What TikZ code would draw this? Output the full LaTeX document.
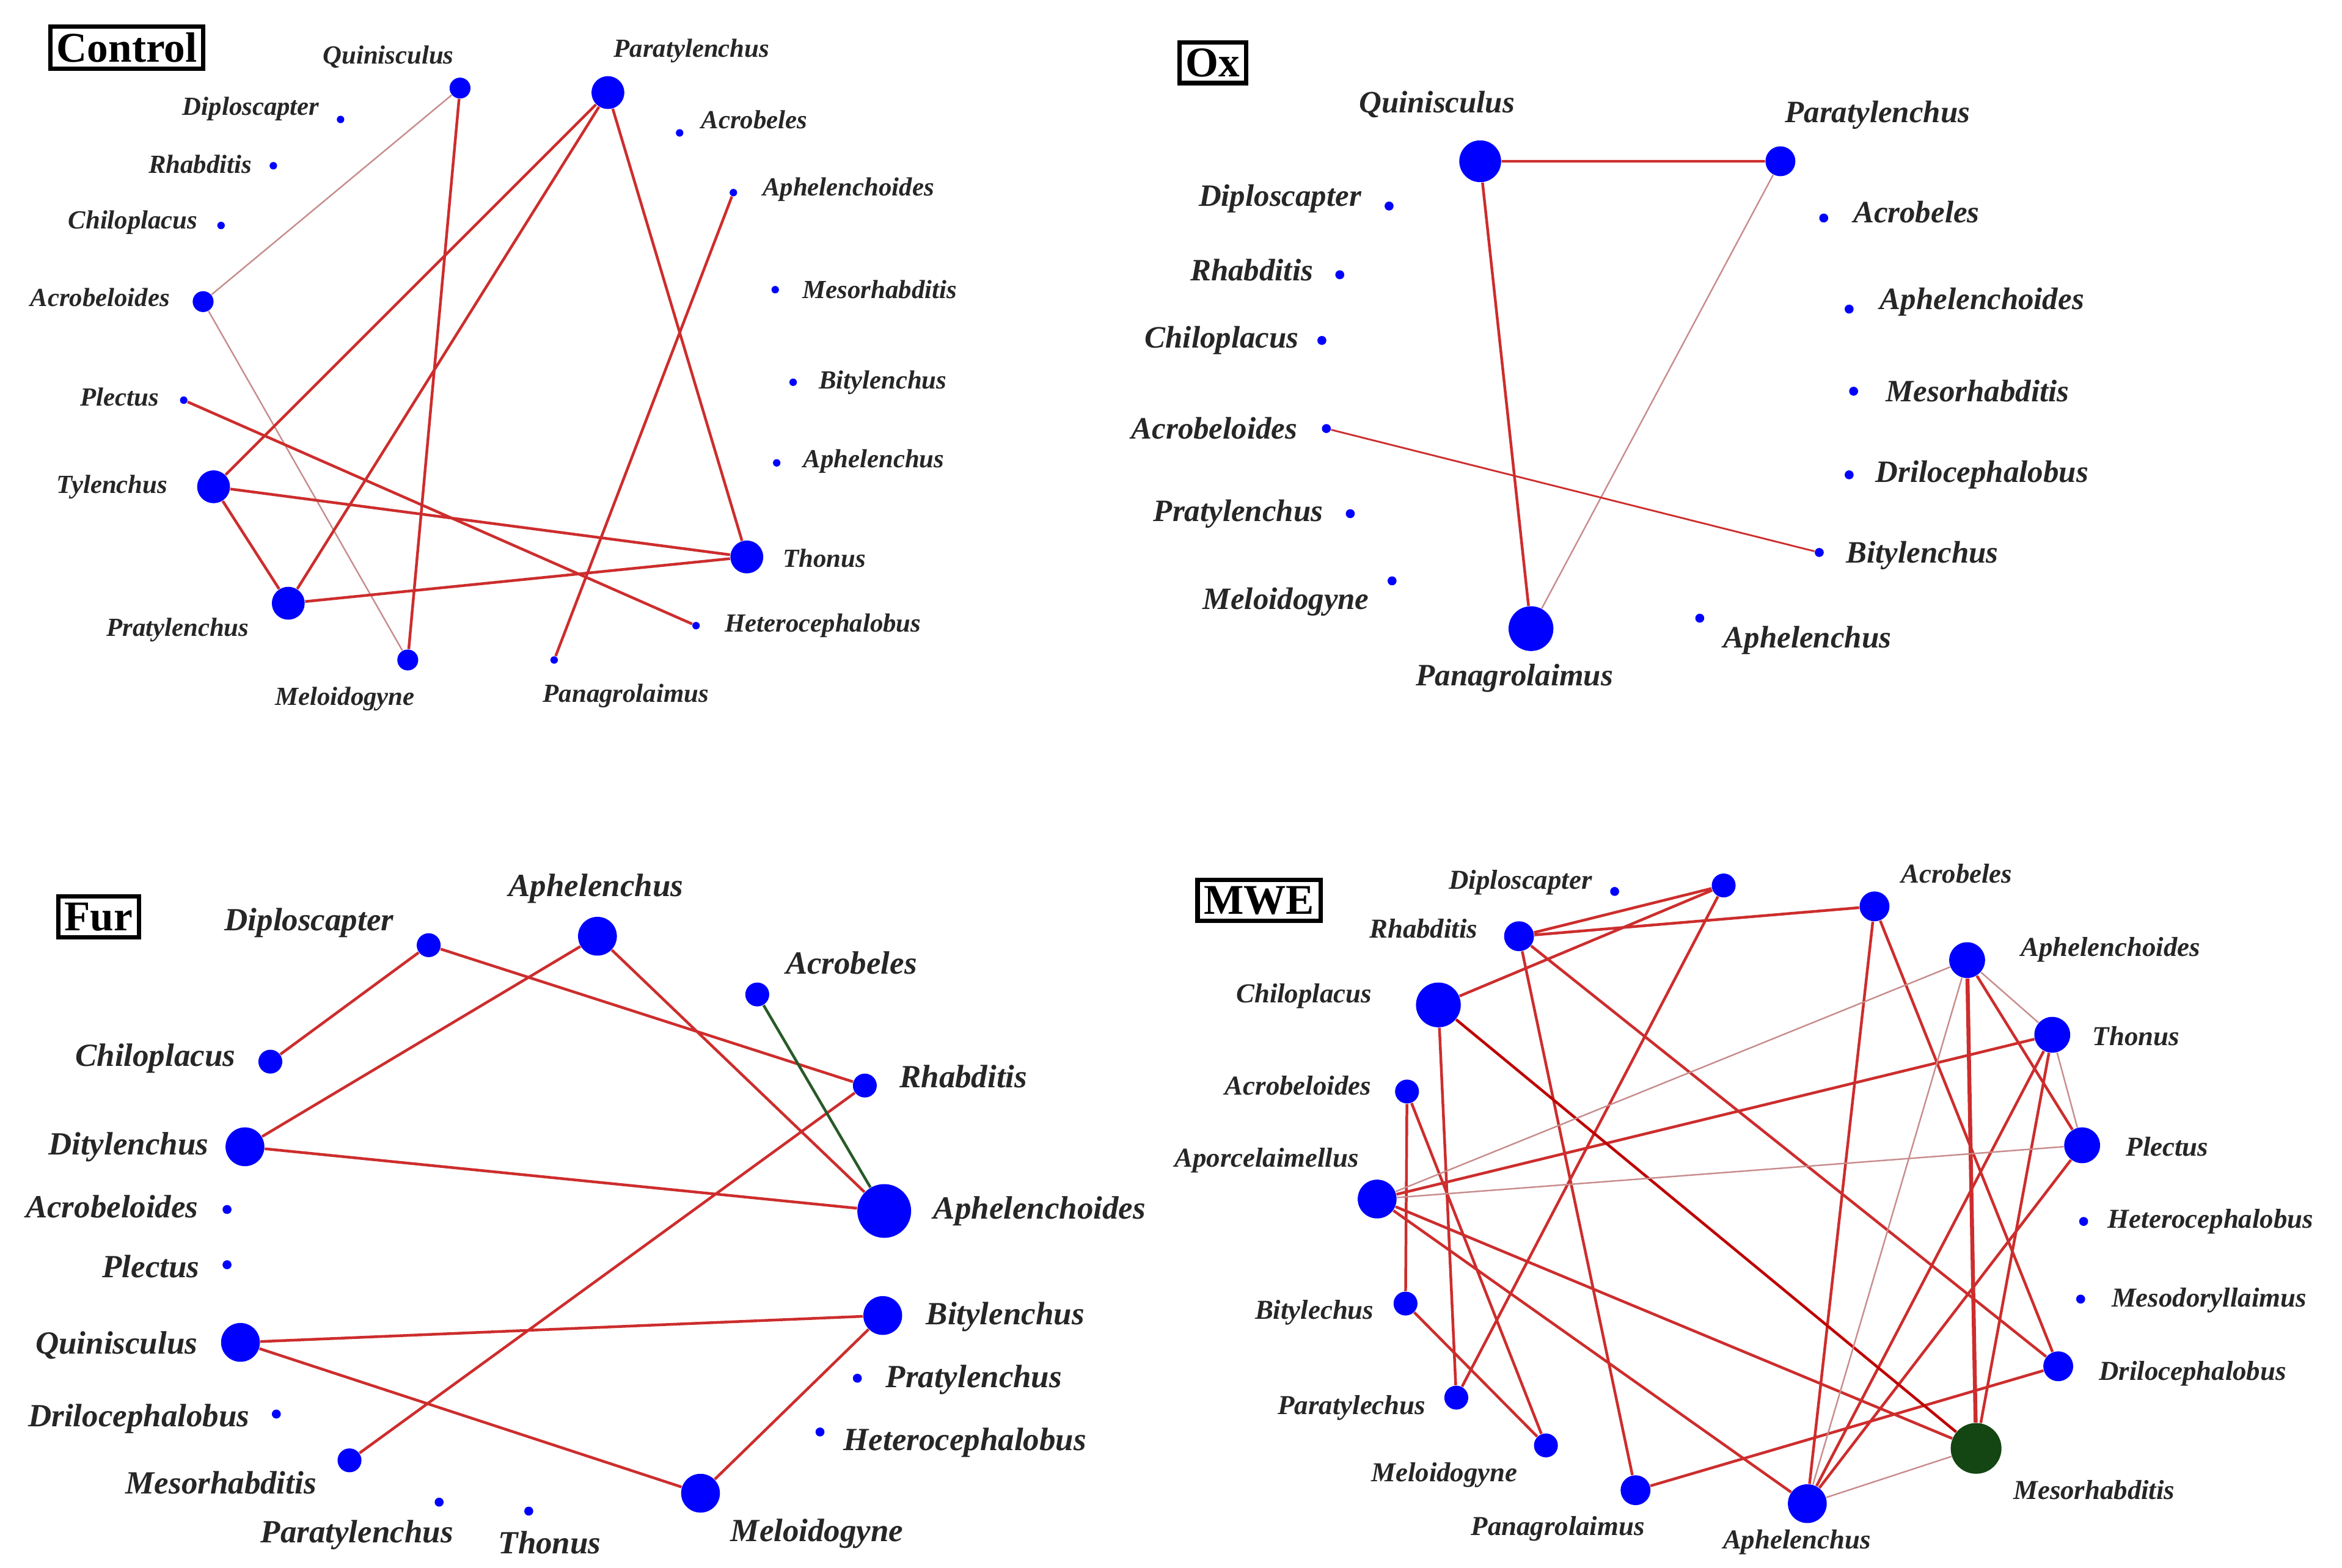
\documentclass[tikz,border=0pt]{standalone}
\usepackage{fontspec}
\setmainfont{Liberation Serif}
\begin{document}
\def\fs{10.5}
\begin{tikzpicture}[x=0.6pt,y=-0.6pt,
 dot/.style={circle,fill=blue,inner sep=0pt},
 lab/.style={font=\bfseries\itshape\fontsize{\fs}{\fs}\selectfont,text=black!85,inner sep=1pt},
 box/.style={draw,line width=1.8pt,font=\bfseries\fontsize{17}{18}\selectfont,inner sep=2.5pt},
 e/.style={draw={rgb,255:red,205;green,45;blue,45},line width=1.1pt},
 l/.style={draw={rgb,255:red,200;green,140;blue,140},line width=0.6pt},
 d/.style={draw={rgb,255:red,190;green,0;blue,0},line width=1.1pt},
 g/.style={draw={rgb,255:red,40;green,90;blue,40},line width=1.1pt}]
\useasboundingbox (0,0) rectangle (1568,1050);
\newcommand\nd[4]{\node[dot,minimum size=#4*1.2pt] (#1) at (#2,#3) {};}
\newcommand\lb[4]{\node[lab] (#1) at (#2,#3) {#4};}
% ---------- Control
\def\fs{10.5}
\node[box] (bc) at (85,32) {Control};
\nd{cQu}{308}{59}{7}\lb{lcQu}{260}{38}{Quinisculus}
\nd{cPa}{407}{62}{11}\lb{lcPa}{463}{34}{Paratylenchus}
\nd{cDi}{228}{80}{2.5}\lb{lcDi}{168}{73}{Diploscapter}
\nd{cAc}{455}{89}{2.5}\lb{lcAc}{505}{80}{Acrobeles}
\nd{cRh}{183}{111}{2.5}\lb{lcRh}{134}{110}{Rhabditis}
\nd{cAp}{491}{129}{2.5}\lb{lcAp}{568}{127}{Aphelenchoides}
\nd{cCh}{148}{151}{2.5}\lb{lcCh}{89}{149}{Chiloplacus}
\nd{cAb}{136}{202}{7}\lb{lcAb}{67}{199}{Acrobeloides}
\nd{cMe}{519}{194}{2.5}\lb{lcMe}{589}{194}{Mesorhabditis}
\nd{cBi}{531}{256}{2.5}\lb{lcBi}{591}{256}{Bitylenchus}
\nd{cPl}{123}{268}{2.5}\lb{lcPl}{80}{266}{Plectus}
\nd{cAh}{520}{310}{2.5}\lb{lcAh}{585}{309}{Aphelenchus}
\nd{cTy}{143}{326}{11}\lb{lcTy}{75}{326}{Tylenchus}
\nd{cTh}{500}{373}{11}\lb{lcTh}{552}{374}{Thonus}
\nd{cHe}{466}{419}{2.5}\lb{lcHe}{551}{419}{Heterocephalobus}
\nd{cPr}{193}{404}{11}\lb{lcPr}{119}{422}{Pratylenchus}
\nd{cMl}{273}{442}{7}\lb{lcMl}{231}{468}{Meloidogyne}
\nd{cPn}{371}{442}{2.5}\lb{lcPn}{419}{466}{Panagrolaimus}
\path[l] (cQu)--(cAb) (cAb)--(cMl);
\path[e] (cQu)--(cMl) (cPa)--(cTy) (cPa)--(cPr) (cPa)--(cTh) (cAp)--(cPn)
 (cPl)--(cHe) (cTy)--(cTh) (cTy)--(cPr) (cPr)--(cTh);
% ---------- Ox
\def\fs{12.5}
\node[box] (bo) at (812,42) {Ox};
\nd{oQu}{991}{108}{14}\lb{loQu}{962}{70}{Quinisculus}
\nd{oPa}{1192}{108}{10}\lb{loPa}{1257}{77}{Paratylenchus}
\nd{oDi}{930}{138}{3}\lb{loDi}{857}{133}{Diploscapter}
\nd{oAc}{1221}{146}{3}\lb{loAc}{1283}{142}{Acrobeles}
\nd{oRh}{897}{184}{3}\lb{loRh}{838}{181}{Rhabditis}
\nd{oAp}{1238}{207}{3}\lb{loAp}{1327}{202}{Aphelenchoides}
\nd{oCh}{885}{228}{3}\lb{loCh}{818}{228}{Chiloplacus}
\nd{oMe}{1241}{262}{3}\lb{loMe}{1324}{262}{Mesorhabditis}
\nd{oAb}{888}{287}{3}\lb{loAb}{813}{287}{Acrobeloides}
\nd{oDr}{1238}{318}{3}\lb{loDr}{1327}{318}{Drilocephalobus}
\nd{oPr}{904}{344}{3}\lb{loPr}{829}{344}{Pratylenchus}
\nd{oBi}{1218}{370}{3}\lb{loBi}{1287}{372}{Bitylenchus}
\nd{oMl}{932}{389}{3}\lb{loMl}{861}{403}{Meloidogyne}
\nd{oAh}{1138}{414}{3}\lb{loAh}{1210}{429}{Aphelenchus}
\nd{oPn}{1025}{421}{15}\lb{loPn}{1014}{454}{Panagrolaimus}
\path[e] (oQu)--(oPa) (oQu)--(oPn);
\path[l] (oPa)--(oPn);
\path[e,line width=0.7pt] (oAb)--(oBi);
% ---------- Fur
\def\fs{13}
\node[box] (bf) at (66,614) {Fur};
\nd{fDi}{287}{633}{8}\lb{lfDi}{207}{618}{Diploscapter}
\nd{fAh}{400}{627}{13}\lb{lfAh}{399}{595}{Aphelenchus}
\nd{fAc}{507}{666}{8}\lb{lfAc}{570}{645}{Acrobeles}
\nd{fCh}{181}{711}{8}\lb{lfCh}{104}{709}{Chiloplacus}
\nd{fRh}{579}{727}{8}\lb{lfRh}{645}{721}{Rhabditis}
\nd{fDt}{164}{768}{13}\lb{lfDt}{86}{768}{Ditylenchus}
\nd{fAb}{152}{810}{3}\lb{lfAb}{75}{808}{Acrobeloides}
\nd{fAp}{592}{811}{18}\lb{lfAp}{696}{811}{Aphelenchoides}
\nd{fPl}{152}{847}{3}\lb{lfPl}{101}{848}{Plectus}
\nd{fBi}{591}{881}{13}\lb{lfBi}{673}{882}{Bitylenchus}
\nd{fQu}{161}{899}{13}\lb{lfQu}{78}{901}{Quinisculus}
\nd{fPr}{574}{923}{3}\lb{lfPr}{652}{924}{Pratylenchus}
\nd{fDr}{185}{947}{3}\lb{lfDr}{93}{950}{Drilocephalobus}
\nd{fHe}{549}{959}{3}\lb{lfHe}{646}{966}{Heterocephalobus}
\nd{fMe}{234}{978}{8}\lb{lfMe}{148}{993}{Mesorhabditis}
\nd{fPa}{294}{1006}{3}\lb{lfPa}{239}{1028}{Paratylenchus}
\nd{fTh}{354}{1012}{3}\lb{lfTh}{368}{1033}{Thonus}
\nd{fMl}{469}{1000}{13}\lb{lfMl}{547}{1027}{Meloidogyne}
\path[e] (fDi)--(fCh) (fDi)--(fRh) (fAh)--(fDt) (fAh)--(fAp) (fDt)--(fAp)
 (fRh)--(fMe) (fQu)--(fBi) (fQu)--(fMl) (fBi)--(fMl);
\path[g] (fAc)--(fAp);
% ---------- MWE
\def\fs{11}
\node[box] (bm) at (843,603) {MWE};
\nd{mDi}{1081}{597}{3}\lb{lmDi}{1018}{591}{Diploscapter}
\nd{mX}{1154}{593}{8}
\nd{mAc}{1255}{607}{10}\lb{lmAc}{1310}{585}{Acrobeles}
\nd{mRh}{1017}{627}{10}\lb{lmRh}{953}{622}{Rhabditis}
\nd{mAp}{1317}{643}{12}\lb{lmAp}{1413}{636}{Aphelenchoides}
\nd{mCh}{963}{673}{15}\lb{lmCh}{873}{667}{Chiloplacus}
\nd{mTh}{1374}{693}{12}\lb{lmTh}{1430}{694}{Thonus}
\nd{mAb}{942}{731}{8}\lb{lmAb}{869}{727}{Acrobeloides}
\nd{mPl}{1394}{767}{12}\lb{lmPl}{1451}{768}{Plectus}
\nd{mAo}{922}{803}{13}\lb{lmAo}{848}{777}{Aporcelaimellus}
\nd{mHe}{1395}{818}{3}\lb{lmHe}{1480}{818}{Heterocephalobus}
\nd{mMd}{1393}{870}{3}\lb{lmMd}{1479}{871}{Mesodoryllaimus}
\nd{mBi}{941}{873}{8}\lb{lmBi}{880}{879}{Bitylechus}
\nd{mDr}{1378}{915}{10}\lb{lmDr}{1468}{920}{Drilocephalobus}
\nd{mPa}{975}{936}{8}\lb{lmPa}{905}{943}{Paratylechus}
\nd{mMl}{1035}{968}{8}\lb{lmMl}{967}{988}{Meloidogyne}
\node[circle,fill={rgb,255:red,20;green,70;blue,20},minimum size=20.4pt,inner sep=0pt] (mMe) at (1323,970) {};
\lb{lmMe}{1402}{998}{Mesorhabditis}
\nd{mPn}{1095}{998}{10}\lb{lmPn}{1043}{1024}{Panagrolaimus}
\nd{mAh}{1210}{1007}{13}\lb{lmAh}{1203}{1033}{Aphelenchus}
\path[e] (mX)--(mRh) (mX)--(mCh) (mX)--(mPa) (mRh)--(mAc) (mRh)--(mPn) (mRh)--(mDr)
 (mAc)--(mAh) (mAc)--(mDr) (mCh)--(mPa) (mAb)--(mBi) (mAb)--(mMl) (mBi)--(mMl)
 (mAo)--(mTh) (mAo)--(mMe) (mAo)--(mAh) (mAp)--(mPl) (mTh)--(mAh) (mTh)--(mMe)
 (mPl)--(mAh) (mDr)--(mPn);
\path[e,line width=1.6pt] (mAp)--(mMe);
\path[d] (mCh)--(mMe);
\path[l] (mAo)--(mAp) (mAo)--(mPl) (mAp)--(mTh) (mAp)--(mAh) (mTh)--(mPl) (mAh)--(mMe);
\end{tikzpicture}
\end{document}
